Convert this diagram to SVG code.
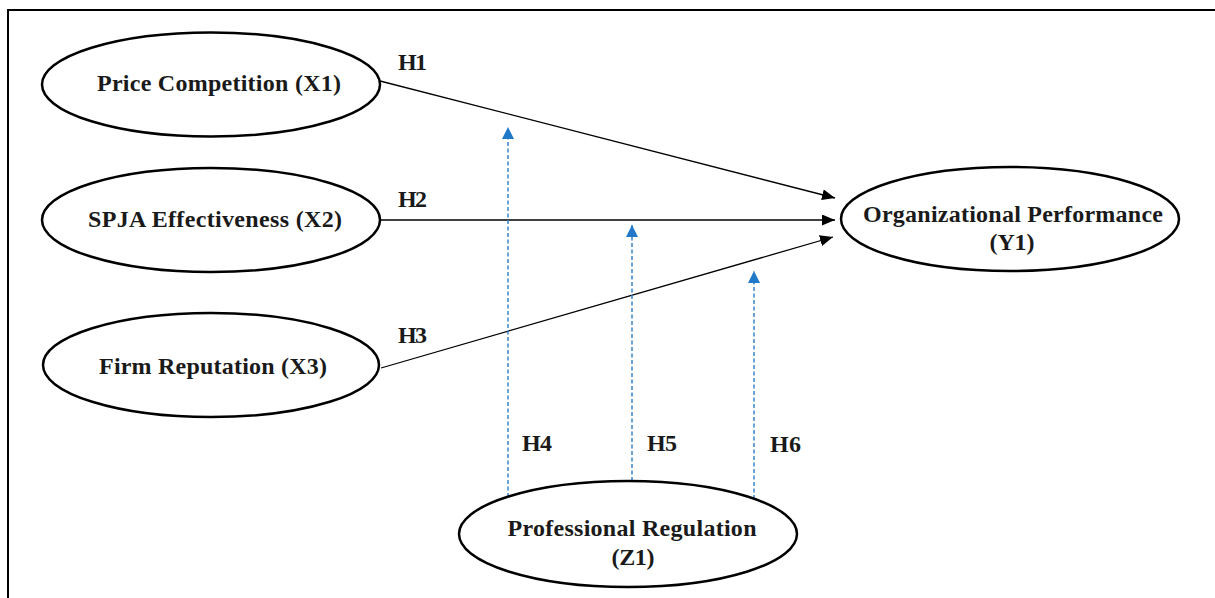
<svg xmlns="http://www.w3.org/2000/svg" width="1215" height="598" viewBox="0 0 1215 598">
<style>
.node ellipse{fill:#fff;stroke:#000;stroke-width:2.5}
.lbl{font-family:"Liberation Serif","Times New Roman",serif;font-weight:bold;font-size:24px;fill:#1a1a1a;text-anchor:middle}
.h{font-family:"Liberation Serif","Times New Roman",serif;font-weight:bold;font-size:24px;fill:#1a1a1a}
.path{stroke:#000;stroke-width:1.3;fill:none}
.mod{stroke:#2a7dc9;stroke-width:1.4;stroke-dasharray:4 2.5;fill:none}
</style>
<defs>
<marker id="ab" viewBox="0 0 13 11" refX="13" refY="5.5" markerWidth="13" markerHeight="11" markerUnits="userSpaceOnUse" orient="auto"><path d="M0,0 L13,5.5 L0,11 Z" fill="#000"/></marker>
<marker id="au" viewBox="0 0 12 12" refX="12" refY="6" markerWidth="12" markerHeight="12" markerUnits="userSpaceOnUse" orient="auto"><path d="M0,0 L12,6 L0,12 Z" fill="#1f78c8"/></marker>
</defs>
<rect x="0" y="0" width="1215" height="598" fill="#fff"/>
<path d="M8,598 L8,10 L1215,10" fill="none" stroke="#000" stroke-width="2"/>
<g id="connectors">
<line class="path" x1="380" y1="81" x2="835" y2="198" marker-end="url(#ab)"/>
<line class="path" x1="380" y1="220" x2="835" y2="220" marker-end="url(#ab)"/>
<line class="path" x1="381" y1="368" x2="833" y2="237" marker-end="url(#ab)"/>
<line class="mod" x1="508" y1="497" x2="508" y2="127" marker-end="url(#au)"/>
<line class="mod" x1="632" y1="481" x2="632" y2="225" marker-end="url(#au)"/>
<line class="mod" x1="754" y1="499" x2="754" y2="271" marker-end="url(#au)"/>
<text class="h" x="398" y="70" textLength="29">H1</text>
<text class="h" x="398" y="207" textLength="29">H2</text>
<text class="h" x="398" y="343" textLength="29">H3</text>
<text class="h" x="522" y="451" textLength="30">H4</text>
<text class="h" x="647" y="451" textLength="30">H5</text>
<text class="h" x="770" y="452" textLength="31">H6</text>
</g>
<g id="x1" class="node"><ellipse cx="211" cy="84.5" rx="169" ry="52"/><text class="lbl" x="219" y="91" textLength="244">Price Competition (X1)</text></g>
<g id="x2" class="node"><ellipse cx="211" cy="220" rx="169" ry="52"/><text class="lbl" x="215" y="227" textLength="254">SPJA Effectiveness (X2)</text></g>
<g id="x3" class="node"><ellipse cx="211" cy="365" rx="168" ry="52"/><text class="lbl" x="213" y="374" textLength="228">Firm Reputation (X3)</text></g>
<g id="y1" class="node"><ellipse cx="1010" cy="219" rx="169" ry="52"/><text class="lbl" x="1013" y="222" textLength="300">Organizational Performance</text><text class="lbl" x="1012" y="250" textLength="45">(Y1)</text></g>
<g id="z1" class="node"><ellipse cx="628" cy="534" rx="169" ry="53"/><text class="lbl" x="632" y="536" textLength="249">Professional Regulation</text><text class="lbl" x="633" y="565" textLength="43">(Z1)</text></g>
</svg>
